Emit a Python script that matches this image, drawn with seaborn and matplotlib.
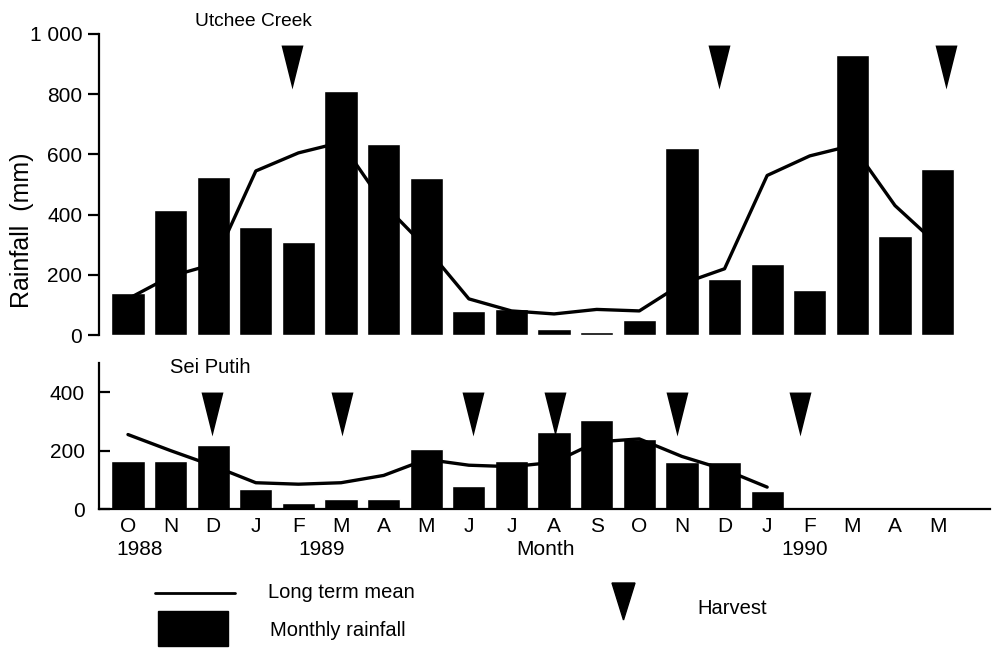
import numpy as np
import pandas as pd
import matplotlib.pyplot as plt
import seaborn as sns
from matplotlib.path import Path
from matplotlib.patches import Rectangle, Polygon
from matplotlib.lines import Line2D


months=['O','N','D','J','F','M','A','M','J','J','A','S','O','N','D','J','F','M','A','M']

# Utchee Creek, Oct 1988 - May 1990
utchee_rain=[140,415,525,360,310,810,635,520,80,85,20,10,50,620,185,235,150,930,330,550]
utchee_mean=[120,195,235,545,605,640,435,290,120,80,70,85,80,170,220,530,595,630,430,300]
utchee_harvest=[3.84,13.87,19.2]

# Sei Putih, Oct 1988 - Jan 1990
sei_rain=[165,165,220,70,20,35,35,205,80,165,265,305,240,160,160,60]
sei_mean=[255,200,148,90,85,90,115,170,150,145,160,230,240,180,135,75]
sei_harvest=[1.97,5.02,8.1,10.02,12.89,15.77]

years=['1988','1989','Month','1990']
year_pos=[0.28,4.55,9.79,15.87]


sns.set_style('ticks')
plt.rcParams['font.family']=['Liberation Sans','DejaVu Sans']
plt.rcParams['axes.linewidth']=1.6
for k in ['text.color','axes.labelcolor','xtick.color','ytick.color','axes.edgecolor']:
    plt.rcParams[k]='black'

tri=Path([(-0.25,0.5),(0.25,0.5),(0,-0.5),(-0.25,0.5)],
         [Path.MOVETO,Path.LINETO,Path.LINETO,Path.CLOSEPOLY])

fig=plt.figure(figsize=(9.93,6.51),dpi=100)
ax1=fig.add_axes([0.0997,0.4854,0.8973,0.4624])
ax2=fig.add_axes([0.0997,0.2181,0.8973,0.2243])

top=pd.DataFrame({'idx':np.arange(len(utchee_rain)),'rain':utchee_rain,'mean':utchee_mean})
bot=pd.DataFrame({'idx':np.arange(len(sei_rain)),'rain':sei_rain,'mean':sei_mean})

for ax,d,harv,hy in [(ax1,top,utchee_harvest,891),(ax2,bot,sei_harvest,327)]:
    sns.lineplot(data=d,x='idx',y='mean',color='black',lw=2.4,ax=ax)
    sns.barplot(data=d,x='idx',y='rain',native_scale=True,width=0.78,color='black',
                saturation=1,errorbar=None,ax=ax)
    sns.scatterplot(x=harv,y=[hy]*len(harv),marker=tri,s=1000,color='black',
                    edgecolor='black',linewidth=0,ax=ax,zorder=5)
    ax.set_xlim(-0.68,20.23)
    ax.set_xlabel('')
    ax.set_ylabel('')
    ax.spines['top'].set_visible(False)
    ax.spines['right'].set_visible(False)

ax1.set_ylim(0,1000)
ax1.set_yticks([0,200,400,600,800,1000])
ax1.set_yticklabels(['0','200','400','600','800','1 000'],fontsize=15)
ax1.spines['bottom'].set_visible(False)
ax1.set_xticks([])
ax1.tick_params(axis='y',length=8,width=1.6,pad=4)
ax1.text(1.57,1.04,'Utchee Creek',transform=ax1.get_xaxis_transform(),
         fontsize=13.8,ha='left',va='center')

ax2.set_ylim(0,500)
ax2.set_yticks([0,200,400])
ax2.set_yticklabels(['0','200','400'],fontsize=15)
ax2.tick_params(axis='y',direction='in',length=8,width=1.6,pad=10)
ax2.set_xticks(np.arange(len(months)))
ax2.set_xticklabels(months,fontsize=15)
ax2.tick_params(axis='x',length=0,pad=6)
ax2.text(0.98,0.97,'Sei Putih',transform=ax2.get_xaxis_transform(),
         fontsize=14.5,ha='left',va='center')
for lab,xp in zip(years,year_pos):
    ax2.text(xp,-0.28,lab,transform=ax2.get_xaxis_transform(),
             fontsize=15,ha='center',va='center')

fig.text(22/993,1-230/651,'Rainfall  (mm)',rotation=90,fontsize=18,ha='center',va='center')

# legend
fig.add_artist(Line2D([155/993,235/993],[1-593/651,1-593/651],color='black',lw=2))
fig.add_artist(Rectangle((158/993,1-646/651),70/993,35/651,color='black',
                         transform=fig.transFigure))
fig.add_artist(Polygon([(612/993,1-583/651),(635/993,1-583/651),(623.5/993,1-620/651)],
                       closed=True,color='black',transform=fig.transFigure))
fig.text(268/993,1-593/651,'Long term mean',fontsize=14.5,va='center')
fig.text(270/993,1-630/651,'Monthly rainfall',fontsize=14.5,va='center')
fig.text(697/993,1-608/651,'Harvest',fontsize=14.5,va='center')

plt.savefig('out.png',dpi=100)
